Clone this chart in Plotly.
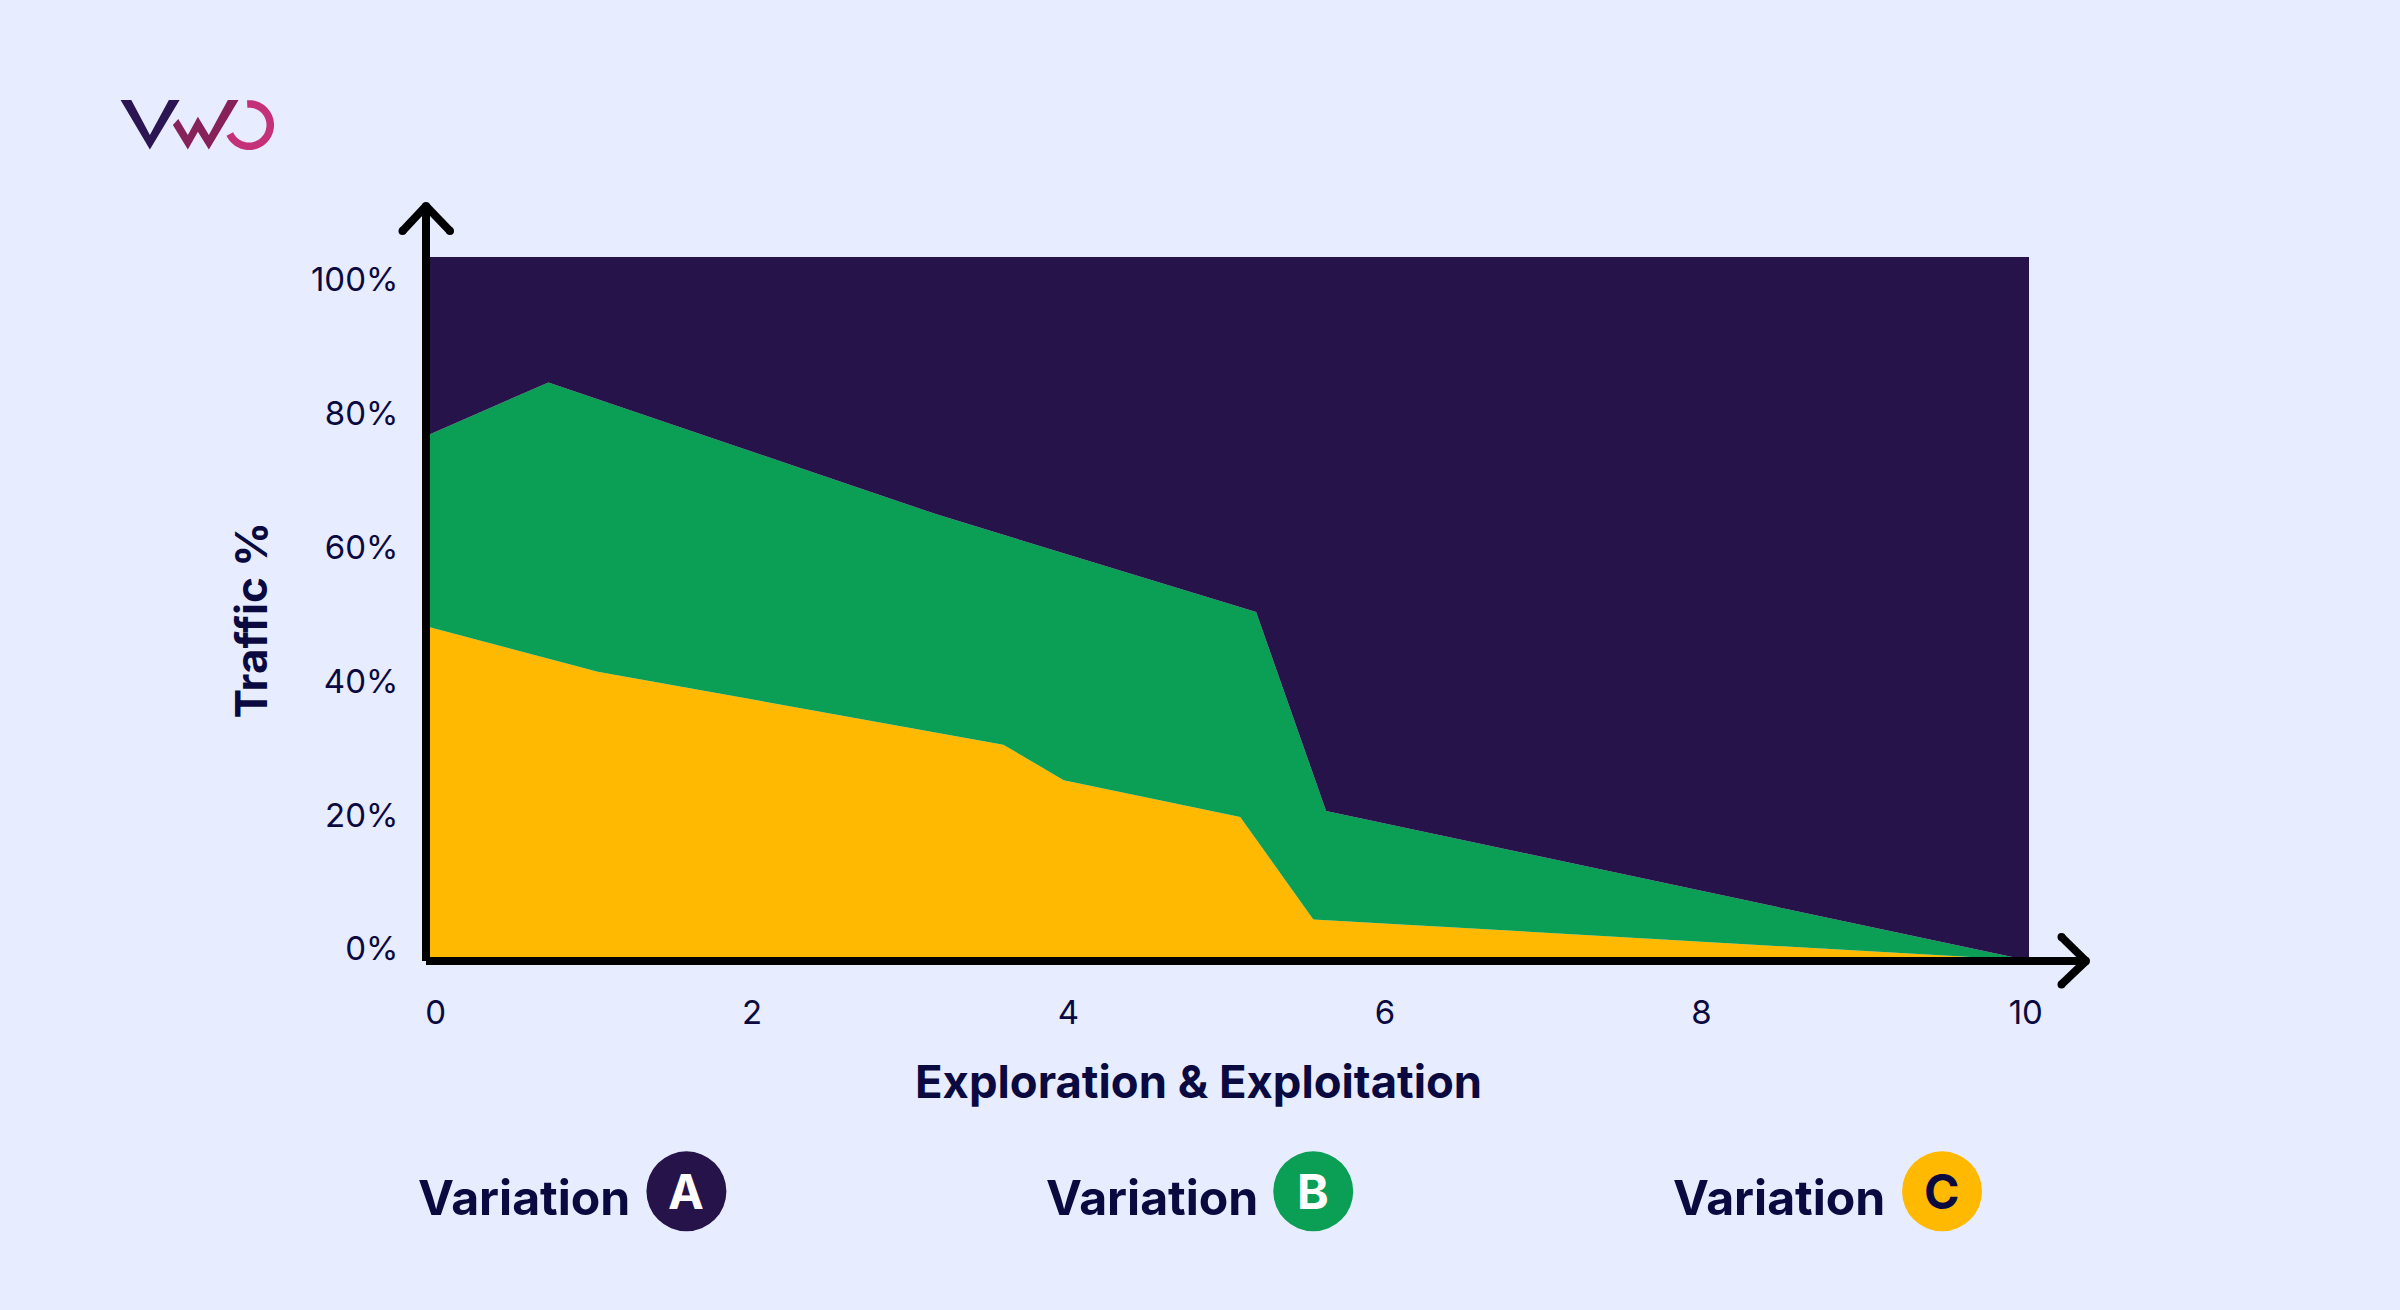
import numpy as np
import plotly.graph_objects as go

# boundaries between the areas (x in steps, y in % as on the ticks)
x_c = [-0.06, 1.02, 3.57, 3.95, 5.06, 5.52, 9.93, 10.02]
y_c = [48.2, 41.4, 30.5, 25.2, 19.7, 4.4, -1.6, -1.6]
x_b = [-0.06, 0.71, 3.15, 5.16, 5.60, 9.93, 10.02]
y_b = [76.6, 84.6, 64.9, 50.3, 20.6, -1.3, -1.3]
x_a = [-0.06, 10.02]
y_a = [103.33, 103.33]
x_base = [-0.06, 10.02]
y_base = [-1.81, -1.81]

# the labels in the picture are not quite evenly spaced
x_ticks = [0, 1.99, 3.98, 5.97, 7.96, 10]
x_tick_labels = ['0', '2', '4', '6', '8', '10']
y_ticks = [0, 20, 40, 60, 80, 100]
y_tick_labels = ['0%', '20%', '40%', '60%', '80%', '100%']

legend_names = ['A', 'B', 'C']

BG = '#e7ecff'
PURPLE = '#261349'
GREEN = '#0b9e55'
YELLOW = '#ffb900'
INK = '#0b0a40'

W, H = 2400, 1310
L, R, T, B = 425.5, 2029, 257, 961.5


def xp(v):
    return (v - L) / (R - L)


def yp(v):
    return (B - v) / (B - T)


def poly(points, color):
    d = 'M ' + ' L '.join(f'{xp(a):.5f},{yp(b):.5f}' for a, b in points) + ' Z'
    return dict(type='path', xref='paper', yref='paper', path=d,
                fillcolor=color, line=dict(width=0), layer='above')


def stroke(points, color='#000000', width=8):
    d = 'M ' + ' L '.join(f'{xp(a):.5f},{yp(b):.5f}' for a, b in points)
    return dict(type='path', xref='paper', yref='paper', path=d,
                line=dict(color=color, width=width), layer='above')


def dot(cx, cy, r, color):
    return dict(type='circle', xref='paper', yref='paper',
                x0=xp(cx - r), x1=xp(cx + r), y0=yp(cy + r), y1=yp(cy - r),
                fillcolor=color, line=dict(width=0), layer='above')


def note(text, x, y, size, weight=400, color=INK, anchor='left', angle=0):
    return dict(text=text, xref='paper', yref='paper', x=xp(x), y=yp(y),
                xanchor=anchor, yanchor='middle', showarrow=False, textangle=angle,
                font=dict(family='Inter', size=size, color=color, weight=weight))


fig = go.Figure()
fig.add_trace(go.Scatter(x=x_base, y=y_base, mode='lines', line=dict(width=0), showlegend=False))
fig.add_trace(go.Scatter(x=x_c, y=y_c, mode='lines', line=dict(width=0), fill='tonexty',
                         fillcolor=YELLOW, name='Variation C', showlegend=False))
fig.add_trace(go.Scatter(x=x_b, y=y_b, mode='lines', line=dict(width=0), fill='tonexty',
                         fillcolor=GREEN, name='Variation B', showlegend=False))
fig.add_trace(go.Scatter(x=x_a, y=y_a, mode='lines', line=dict(width=0), fill='tonexty',
                         fillcolor=PURPLE, name='Variation A', showlegend=False))

shapes = []
# axes with arrow heads, wings drawn apart so the ends can be rounded with dots
y_tip = (425.5, 206)
x_tip = (2086, 961.5)
y_wings = [(402, 231), (449.5, 231)]
x_wings = [(2061.5, 937.5), (2061.5, 985)]
shapes.append(stroke([(425.5, 961.5), y_tip]))
shapes.append(stroke([(425.5, 961.5), x_tip]))
for wing in y_wings:
    shapes.append(stroke([wing, y_tip]))
for wing in x_wings:
    shapes.append(stroke([wing, x_tip]))
for px, py in y_wings + x_wings + [y_tip, x_tip]:
    shapes.append(dot(px, py, 4, '#000000'))

# logo
shapes.append(poly([(120, 100), (130.7, 100), (149.3, 135), (168.3, 100), (179, 100), (149.3, 149.3)], '#2b1552'))
shapes.append(poly([(172.3, 125), (177.7, 119), (187.3, 135), (197.3, 116.7), (208.3, 135), (227.3, 100), (238, 100),
                    (208.3, 149.3), (197.3, 131.7), (187.3, 149.3)], '#86215a'))
arc = np.radians(np.linspace(-95, 155, 50))
shapes.append(stroke([(248.5 + 21.2 * np.cos(t), 125 + 21.2 * np.sin(t)) for t in arc], color='#c4307a', width=7.5))

# legend bullets
annotations = []
for name, text_x, circle_x, circle_col, letter_col in zip(
        legend_names, [415, 1043.5, 1671], [686, 1313, 1942], [PURPLE, GREEN, YELLOW], ['#ffffff', '#ffffff', INK]):
    shapes.append(dot(circle_x, 1192, 40, circle_col))
    annotations.append(note('Variation', text_x, 1198, 48.2, weight=700))
    annotations.append(note(name, circle_x, 1192, 48, weight=700, color=letter_col, anchor='center'))

annotations.append(note('Exploration &amp; Exploitation', 1198, 1082, 45.4, weight=700, anchor='center'))
annotations.append(note('Traffic %', 250, 621, 44, weight=700, anchor='center', angle=-90))

fig.update_layout(
    width=W, height=H,
    margin=dict(l=L, r=W - R, t=T, b=H - B, pad=0),
    paper_bgcolor=BG, plot_bgcolor=BG,
    showlegend=False,
    shapes=shapes,
    annotations=annotations,
    font=dict(family='Inter', color=INK),
    xaxis=dict(range=[-0.06, 10.02], tickvals=x_ticks, ticktext=x_tick_labels, showgrid=False, zeroline=False,
               showline=False, ticks='outside', ticklen=22, tickcolor='rgba(0,0,0,0)',
               tickfont=dict(size=33, color=INK)),
    yaxis=dict(range=[-1.81, 103.33], tickvals=y_ticks, ticktext=y_tick_labels, showgrid=False, zeroline=False,
               showline=False, ticks='outside', ticklen=20, tickcolor='rgba(0,0,0,0)',
               tickfont=dict(size=33, color=INK)),
)

fig.write_html("out.html", config=dict(displayModeBar=False), post_script="document.body.style.margin='0';")
